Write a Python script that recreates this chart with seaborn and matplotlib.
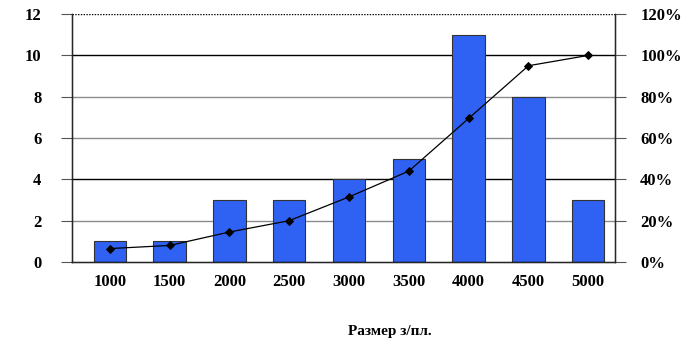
import matplotlib
matplotlib.use("Agg")
import matplotlib.pyplot as plt
import numpy as np
import pandas as pd
import seaborn as sb

# histogram of sizes + cumulative share
sizes = ['1000', '1500', '2000', '2500', '3000', '3500', '4000', '4500', '5000']
counts = [1, 1, 3, 3, 4, 5, 11, 8, 3]
cum_pct = [6.5, 8, 14.5, 20, 31.5, 44, 69.5, 95, 100]

left_ticks = [0, 2, 4, 6, 8, 10, 12]
right_ticks = [0, 20, 40, 60, 80, 100, 120]
x_title = 'Размер з/пл.'

df = pd.DataFrame({'size': sizes, 'count': counts, 'cum': cum_pct})

sb.set_style('white')
plt.rcParams['font.family'] = ['Liberation Serif', 'DejaVu Serif']
plt.rcParams['font.weight'] = 'bold'
plt.rcParams['text.color'] = 'black'
plt.rcParams['xtick.color'] = 'black'
plt.rcParams['ytick.color'] = 'black'
plt.rcParams['xtick.labelcolor'] = 'black'
plt.rcParams['ytick.labelcolor'] = 'black'

fig = plt.figure(figsize=(6.88, 3.52), dpi=100)
ax = fig.add_axes([0.1047, 0.2557, 0.7895, 0.7043])

# grid lines drawn like the excel original (mixed black / grey)
for v in left_ticks:
    if v in (4, 10):
        ax.axhline(v, color='black', lw=1, zorder=0)
    elif v == 12:
        ax.axhline(v, color='black', lw=1, ls=(0, (1, 1)), zorder=0)
    elif v != 0:
        ax.axhline(v, color='#8c8c8c', lw=1, zorder=0)

sb.barplot(data=df, x='size', y='count', ax=ax, color='#2f62f2', saturation=1,
           width=0.54, edgecolor='#333333', linewidth=0.8, zorder=2)

ax.set_ylim(0, 12)
ax.set_xlim(-0.63, 8.45)
ax.set_yticks(left_ticks)
ax.set_yticklabels([str(v) for v in left_ticks], fontsize=12, fontweight='bold')
ax.set_xticklabels(sizes, fontsize=12, fontweight='bold')
ax.set_xlabel('')
ax.set_ylabel('')
ax.tick_params(axis='y', length=8, width=0.8, color='#555555', labelcolor='black', pad=14)
ax.tick_params(axis='x', length=0, pad=9, labelcolor='black')
for s in ['left', 'right', 'bottom']:
    ax.spines[s].set_color('black')
    ax.spines[s].set_linewidth(1)
ax.spines['top'].set_visible(False)

ax2 = ax.twinx()
sb.pointplot(data=df, x='size', y='cum', ax=ax2, color='black', marker='D',
             markersize=4.5, linewidth=0.9, native_scale=False)
ax2.set_ylim(0, 120)
ax2.set_xlim(-0.63, 8.45)
ax2.set_yticks(right_ticks)
ax2.set_yticklabels([f'{v}%' for v in right_ticks], fontsize=12, fontweight='bold')
ax2.tick_params(axis='y', length=8, width=0.8, color='#555555', labelcolor='black', pad=10)
ax2.set_ylabel('')
ax2.set_xlabel('')
ax2.spines['top'].set_visible(False)

fig.text(390 / 688, 1 - 331 / 352, x_title, ha='center', va='center',
         fontsize=11, fontweight='bold', color='black')

fig.savefig('out.png', dpi=100)
